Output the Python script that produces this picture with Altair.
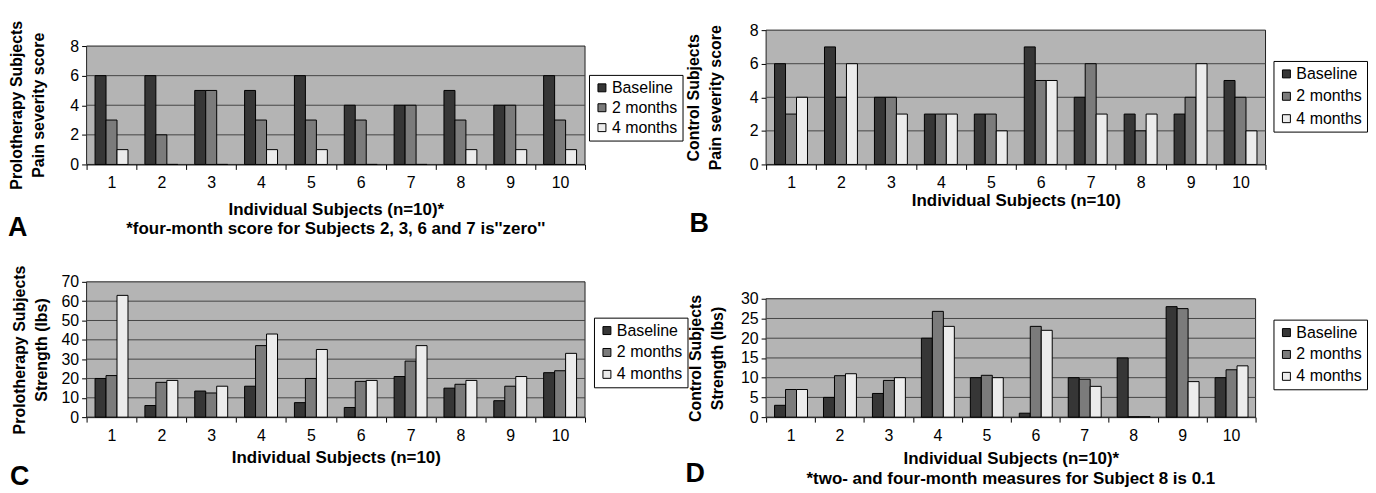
import altair as alt
import pandas as pd

# ---------------- data ----------------
subjects = ["1", "2", "3", "4", "5", "6", "7", "8", "9", "10"]
periods = ["Baseline", "2 months", "4 months"]

a_base = [6, 6, 5, 5, 6, 4, 4, 5, 4, 6]
a_m2 = [3, 2, 5, 3, 3, 3, 4, 3, 4, 3]
a_m4 = [1, 0, 0, 1, 1, 0, 0, 1, 1, 1]

b_base = [6, 7, 4, 3, 3, 7, 4, 3, 3, 5]
b_m2 = [3, 4, 4, 3, 3, 5, 6, 2, 4, 4]
b_m4 = [4, 6, 3, 3, 2, 5, 3, 3, 6, 2]

c_base = [20, 6, 13.5, 16, 7.5, 5, 21, 15, 8.5, 23]
c_m2 = [21.5, 18, 12.5, 37, 20, 18.5, 29, 17, 16, 24]
c_m4 = [63, 19, 16, 43, 35, 19, 37, 19, 21, 33]

d_base = [3, 5, 6, 20, 10, 1, 10, 15, 28, 10]
d_m2 = [7, 10.5, 9.3, 26.8, 10.6, 23, 9.6, 0.1, 27.5, 12]
d_m4 = [7, 11, 10, 23, 10, 22, 7.8, 0.1, 9, 13]

pain_ticks = [0, 2, 4, 6, 8]
c_ticks = [0, 10, 20, 30, 40, 50, 60, 70]
d_ticks = [0, 5, 10, 15, 20, 25, 30]

bar_colors = ["#363636", "#7b7b7b", "#ececec"]
FONT = "Liberation Sans"


def long_df(base, m2, m4):
    rows = []
    for i, s in enumerate(subjects):
        for p, vals in zip(periods, (base, m2, m4)):
            rows.append({"Subject": s, "Period": p, "Value": vals[i]})
    return pd.DataFrame(rows)


def panel(base, m2, m4, ticks, W, H_real, H_cell, ytitle, xtitle,
          title_x, title_y, x_title_pad, legend_x, legend_y, row_pad,
          letter, letter_x, letter_y, footnote=None, foot_y=None):
    top = ticks[-1]
    dom_top = top * H_cell / H_real
    yscale = alt.Scale(domain=[0, dom_top], nice=False, zero=True)

    yaxis_kwargs = dict(
        values=ticks, grid=False, domain=False, title=ytitle,
        titleX=title_x, titleFontSize=16, titleFontWeight="bold",
        titleLineHeight=22, titleColor="black", titleFont=FONT,
        labelFontSize=16, labelFont=FONT, labelColor="black",
        labelPadding=3, tickSize=5, tickColor="black",
    )
    if title_y is not None:
        yaxis_kwargs["titleY"] = title_y
    yaxis = alt.Axis(**yaxis_kwargs)

    xaxis = alt.Axis(title=xtitle, labelAngle=0, tickBand="extent",
                     ticks=True, domain=True,
                     labelFontSize=16, labelFont=FONT,
                     labelColor="black", labelPadding=5,
                     tickSize=5, tickColor="black", tickWidth=1,
                     domainColor="black", titleFontSize=17,
                     titleFontWeight="bold", titleFont=FONT,
                     titleColor="black", titlePadding=x_title_pad)

    bg = alt.Chart(pd.DataFrame({"Value": [top], "lo": [0]})).mark_rect(
        fill="#b4b4b4", stroke="#202020", strokeWidth=1
    ).encode(
        x=alt.value(0), x2=alt.value(W),
        y=alt.Y("Value:Q", scale=yscale, axis=yaxis),
        y2=alt.Y2("lo:Q"),
    )

    grid = alt.Chart(pd.DataFrame({"Value": ticks[1:-1]})).mark_rule(
        color="#454545", strokeWidth=1
    ).encode(
        y=alt.Y("Value:Q", scale=yscale, axis=yaxis),
        x=alt.value(0), x2=alt.value(W),
    )

    bars = alt.Chart(long_df(base, m2, m4)).mark_bar(
        stroke="black", strokeWidth=1
    ).encode(
        x=alt.X("Subject:N", sort=subjects,
                scale=alt.Scale(paddingInner=0, paddingOuter=0),
                axis=xaxis),
        xOffset=alt.XOffset("Period:N", sort=periods,
                            scale=alt.Scale(paddingInner=0, paddingOuter=0.77)),
        y=alt.Y("Value:Q", scale=yscale, axis=yaxis),
        color=alt.Color(
            "Period:N",
            scale=alt.Scale(domain=periods, range=bar_colors),
            legend=alt.Legend(
                orient="none", legendX=legend_x, legendY=legend_y, title=None,
                strokeColor="black", fillColor="white", padding=5,
                symbolType="square", symbolSize=64, symbolStrokeColor="black",
                symbolStrokeWidth=1, labelFontSize=16, labelFont=FONT,
                labelColor="black", rowPadding=row_pad, labelOffset=2,
            ),
        ),
    )

    layers = [bg, grid, bars]

    letter_layer = alt.Chart(pd.DataFrame({"t": [letter]})).mark_text(
        align="left", baseline="middle", fontSize=27, fontWeight="bold",
        font=FONT, color="black"
    ).encode(text="t:N", x=alt.value(letter_x), y=alt.value(letter_y))
    layers.append(letter_layer)

    if footnote is not None:
        foot_layer = alt.Chart(pd.DataFrame({"t": [footnote]})).mark_text(
            align="center", baseline="middle", fontSize=17, fontWeight="bold",
            font=FONT, color="black"
        ).encode(text="t:N", x=alt.value(W / 2), y=alt.value(foot_y))
        layers.append(foot_layer)

    return alt.layer(*layers).properties(width=W, height=H_cell)


A = panel(a_base, a_m2, a_m4, pain_ticks, 501, 119, 135,
          ["Prolotherapy Subjects", "Pain severity score"],
          "Individual Subjects (n=10)*", -62, 75, 11, 505, 45, 4,
          "A", -79, 199,
          "*four-month score for Subjects 2, 3, 6 and 7 is''zero''", 200)

B = panel(b_base, b_m2, b_m4, pain_ticks, 502, 135, 135,
          ["Control Subjects", "Pain severity score"],
          "Individual Subjects (n=10)", -65, None, 2, 510, 31, 6.5,
          "B", -77, 195)

C = panel(c_base, c_m2, c_m4, c_ticks, 501, 136, 136,
          ["Prolotherapy Subjects", "Strength (lbs)"],
          "Individual Subjects (n=10)", -59, None, 7, 510, 36, 6,
          "C", -77, 196)

D = panel(d_base, d_m2, d_m4, d_ticks, 492, 119, 136,
          ["Control Subjects", "Strength (lbs)"],
          "Individual Subjects (n=10)*", -63, 76.5, 8, 510, 38, 6,
          "D", -81, 193,
          "*two- and four-month measures for Subject 8 is 0.1", 198)

chart = alt.concat(
    A, B, C, D, columns=2, spacing={"row": 118, "column": 182}, bounds="flush"
).resolve_scale(
    color="independent"
).properties(
    padding={"left": 0, "top": 11, "right": 0, "bottom": 0}
).configure_view(stroke=None)

chart.save("out.html", embed_options={"renderer": "svg", "actions": False})
